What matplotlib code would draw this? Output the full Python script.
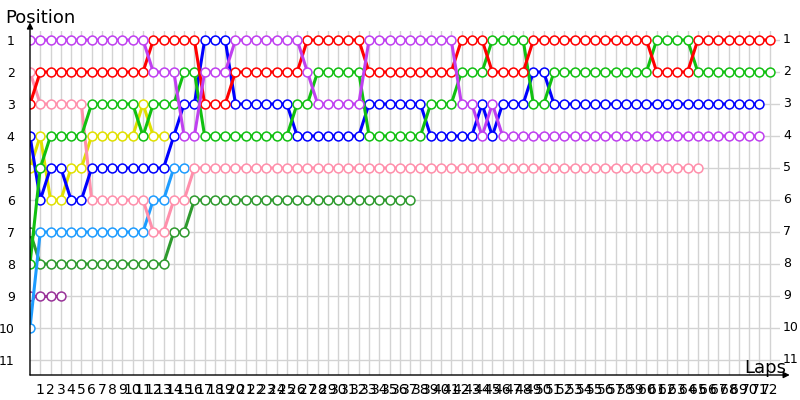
import numpy as np
import matplotlib
matplotlib.use("Agg")
import matplotlib.pyplot as plt

# position of each driver at the end of every lap (lap 0 = grid)
violet = [1, 1, 1, 1, 1, 1, 1, 1, 1, 1, 1, 1, 2, 2, 2, 4, 4, 2, 2, 2,
          1, 1, 1, 1, 1, 1, 1, 2, 3, 3, 3, 3, 3, 1, 1, 1, 1, 1, 1, 1,
          1, 1, 3, 3, 4, 3, 4, 4, 4, 4, 4, 4, 4, 4, 4, 4, 4, 4, 4, 4,
          4, 4, 4, 4, 4, 4, 4, 4, 4, 4, 4, 4]
red = [3, 2, 2, 2, 2, 2, 2, 2, 2, 2, 2, 2, 1, 1, 1, 1, 1, 3, 3, 3,
       2, 2, 2, 2, 2, 2, 2, 1, 1, 1, 1, 1, 1, 2, 2, 2, 2, 2, 2, 2,
       2, 2, 1, 1, 1, 2, 2, 2, 2, 1, 1, 1, 1, 1, 1, 1, 1, 1, 1, 1,
       1, 2, 2, 2, 2, 1, 1, 1, 1, 1, 1, 1, 1]
green = [8, 5, 4, 4, 4, 4, 3, 3, 3, 3, 3, 4, 3, 3, 3, 2, 2, 4, 4, 4,
         4, 4, 4, 4, 4, 4, 3, 3, 2, 2, 2, 2, 2, 4, 4, 4, 4, 4, 4, 3,
         3, 3, 2, 2, 2, 1, 1, 1, 1, 3, 3, 2, 2, 2, 2, 2, 2, 2, 2, 2,
         2, 1, 1, 1, 1, 2, 2, 2, 2, 2, 2, 2, 2]
blue = [4, 6, 5, 5, 6, 6, 5, 5, 5, 5, 5, 5, 5, 5, 4, 3, 3, 1, 1, 1,
        3, 3, 3, 3, 3, 3, 4, 4, 4, 4, 4, 4, 4, 3, 3, 3, 3, 3, 3, 4,
        4, 4, 4, 4, 3, 4, 3, 3, 3, 2, 2, 3, 3, 3, 3, 3, 3, 3, 3, 3,
        3, 3, 3, 3, 3, 3, 3, 3, 3, 3, 3, 3]
pink = [2, 3, 3, 3, 3, 3, 6, 6, 6, 6, 6, 6, 7, 7, 6, 6, 5, 5, 5, 5,
        5, 5, 5, 5, 5, 5, 5, 5, 5, 5, 5, 5, 5, 5, 5, 5, 5, 5, 5, 5,
        5, 5, 5, 5, 5, 5, 5, 5, 5, 5, 5, 5, 5, 5, 5, 5, 5, 5, 5, 5,
        5, 5, 5, 5, 5, 5]
yellow = [5, 4, 6, 6, 5, 5, 4, 4, 4, 4, 4, 3, 4, 4]
lightblue = [10, 7, 7, 7, 7, 7, 7, 7, 7, 7, 7, 7, 6, 6, 5, 5]
darkgreen = [7, 8, 8, 8, 8, 8, 8, 8, 8, 8, 8, 8, 8, 8, 7, 7, 6, 6, 6, 6,
             6, 6, 6, 6, 6, 6, 6, 6, 6, 6, 6, 6, 6, 6, 6, 6, 6, 6]
purple = [9, 9, 9, 9]

drivers = [
    (purple, "#993399"),
    (darkgreen, "#2e9a2e"),
    (lightblue, "#1e9cff"),
    (yellow, "#e0e000"),
    (pink, "#ff8fab"),
    (blue, "#0000ff"),
    (green, "#11c011"),
    (red, "#ff0000"),
    (violet, "#c040f0"),
]

n_laps = 72
positions = list(range(1, 12))

fig = plt.figure(figsize=(8, 4), dpi=100)
ax = fig.add_axes([30 / 800, 25 / 400, 750 / 800, 344 / 400])

for pos, col in drivers:
    laps = np.arange(len(pos))
    ax.plot(laps, pos, "-o", color=col, lw=2.2, ms=6.4, mfc="white",
            mec=col, mew=1.1, zorder=3)

ax.set_xlim(0, 73)
ax.set_ylim(11.47, 0.72)

ax.set_xticks(range(1, n_laps + 1))
ax.set_xticklabels([str(i) for i in range(1, n_laps + 1)], fontsize=10)
ax.set_yticks(positions)
ax.set_yticklabels([str(p) for p in positions], fontsize=9)
ax.tick_params(axis="both", length=0)
ax.tick_params(axis="y", pad=11)
ax.tick_params(axis="x", pad=6)

for p in positions:
    ax.text(73.3, p, str(p), fontsize=9, ha="left", va="center", clip_on=False)

ax.grid(True, color="#d3d3d3", lw=1, zorder=0)
ax.set_axisbelow(True)

for s in ax.spines.values():
    s.set_visible(False)

# axis lines with arrow heads
ax.annotate("", xy=(0, 1.025), xytext=(0, 0), xycoords="axes fraction",
            arrowprops=dict(arrowstyle="-|>", color="black", lw=1,
                            mutation_scale=9, shrinkA=0, shrinkB=0))
ax.annotate("", xy=(1.013, 0), xytext=(0, 0), xycoords="axes fraction",
            arrowprops=dict(arrowstyle="-|>", color="black", lw=1,
                            mutation_scale=9, shrinkA=0, shrinkB=0))

fig.text(5 / 800, 1 - 18 / 400, "Position", fontsize=13, va="center")
fig.text(744 / 800, 1 - 368 / 400, "Laps", fontsize=13, va="center")

fig.savefig("out.png", dpi=100)
